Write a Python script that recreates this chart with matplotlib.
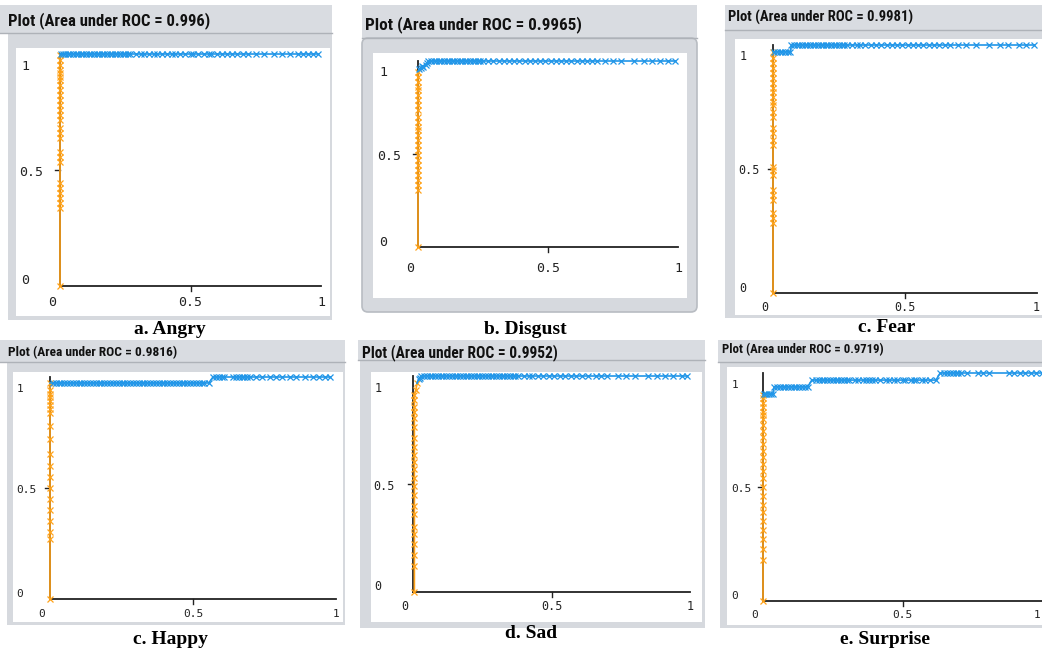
import matplotlib
matplotlib.use("Agg")
import matplotlib.pyplot as plt
from matplotlib.patches import Rectangle, FancyBboxPatch
from matplotlib import font_manager

# ---------------- data ----------------
titles = ["Plot (Area under ROC = 0.996)", "Plot (Area under ROC = 0.9965)",
          "Plot (Area under ROC = 0.9981)", "Plot (Area under ROC = 0.9816)",
          "Plot (Area under ROC = 0.9952)", "Plot (Area under ROC = 0.9719)"]
captions = ["a. Angry", "b. Disgust", "c. Fear", "c. Happy", "d. Sad", "e. Surprise"]
x_tick_labels = ["0", "0.5", "1"]
y_tick_labels = ["0", "0.5", "1"]
tick_values = [0, 0.5, 1]

# orange part (vertical rise near FPR = 0): TPR values
angry_orange_tpr = [0, 0.335, 0.356, 0.378, 0.40, 0.421, 0.443, 0.536, 0.557, 0.579, 0.636,
                    0.658, 0.68, 0.716, 0.737, 0.759, 0.78, 0.802, 0.823, 0.845, 0.866,
                    0.888, 0.902, 0.917, 0.931, 0.953, 0.974, 0.996]
angry_orange_fpr = [0.0] * len(angry_orange_tpr)
angry_blue_fpr = [0.005, 0.01, 0.02, 0.03, 0.04, 0.05, 0.06, 0.07, 0.08, 0.09, 0.10, 0.11, 0.12,
                  0.13, 0.14, 0.15, 0.16, 0.17, 0.18, 0.19, 0.20, 0.21, 0.22, 0.23, 0.24, 0.25,
                  0.26, 0.27, 0.29, 0.31, 0.32, 0.34, 0.36, 0.37, 0.39, 0.41, 0.43, 0.44, 0.46,
                  0.48, 0.50, 0.51, 0.53, 0.55, 0.57, 0.58, 0.60, 0.62, 0.64, 0.66, 0.68, 0.70,
                  0.72, 0.75, 0.78, 0.82, 0.85, 0.88, 0.91, 0.93, 0.95, 0.97, 0.99]
angry_blue_tpr = [1.0] * len(angry_blue_fpr)

disgust_orange_tpr = [0, 0.306, 0.333, 0.36, 0.387, 0.414, 0.441, 0.468, 0.495, 0.522, 0.548,
                      0.575, 0.602, 0.629, 0.647, 0.674, 0.701, 0.737, 0.763, 0.79, 0.817,
                      0.844, 0.862, 0.889, 0.916, 0.943]
disgust_orange_fpr = [0.0] * len(disgust_orange_tpr)
disgust_blue_fpr = [0.005, 0.01, 0.015, 0.02, 0.03, 0.035, 0.04, 0.05, 0.06, 0.07, 0.08, 0.09,
                    0.10, 0.11, 0.12, 0.13, 0.14, 0.15, 0.16, 0.17, 0.18, 0.19, 0.20, 0.21, 0.22,
                    0.23, 0.24, 0.25, 0.27, 0.29, 0.31, 0.33, 0.35, 0.37, 0.39, 0.41, 0.43, 0.45,
                    0.47, 0.49, 0.51, 0.53, 0.55, 0.57, 0.59, 0.61, 0.63, 0.65, 0.67, 0.69, 0.72,
                    0.75, 0.78, 0.83, 0.87, 0.90, 0.93, 0.96, 0.99]
disgust_blue_tpr = [0.955, 0.965, 0.975, 0.97, 0.98, 0.99] + [1.0] * (len(disgust_blue_fpr) - 6)

fear_orange_tpr = [0, 0.281, 0.301, 0.321, 0.375, 0.395, 0.415, 0.476, 0.496, 0.509, 0.597,
                   0.617, 0.644, 0.664, 0.711, 0.731, 0.758, 0.771, 0.792, 0.812, 0.825, 0.845,
                   0.866, 0.886, 0.906, 0.926, 0.946, 0.973]
fear_orange_fpr = [0.0] * len(fear_orange_tpr)
fear_blue_fpr = [0.005, 0.015, 0.025, 0.035, 0.045, 0.055, 0.065, 0.07, 0.08, 0.09, 0.10, 0.11,
                 0.12, 0.13, 0.14, 0.15, 0.16, 0.17, 0.18, 0.19, 0.20, 0.21, 0.22, 0.23, 0.24,
                 0.25, 0.26, 0.27, 0.28, 0.30, 0.32, 0.33, 0.35, 0.37, 0.39, 0.41, 0.43, 0.45,
                 0.47, 0.49, 0.51, 0.53, 0.55, 0.57, 0.59, 0.61, 0.63, 0.65, 0.67, 0.70, 0.73,
                 0.77, 0.82, 0.86, 0.89, 0.93, 0.96, 0.99]
fear_blue_tpr = [0.972] * 7 + [1.0] * (len(fear_blue_fpr) - 7)

happy_orange_tpr = [0, 0.27, 0.30, 0.35, 0.40, 0.45, 0.50, 0.55, 0.60, 0.655, 0.72, 0.78,
                    0.84, 0.855, 0.875, 0.89, 0.91, 0.925, 0.94, 0.973]
happy_orange_fpr = [0.0] * len(happy_orange_tpr)
happy_blue_fpr = [0.01, 0.02, 0.03, 0.04, 0.05, 0.06, 0.07, 0.08, 0.09, 0.10, 0.11, 0.12, 0.13,
                  0.14, 0.15, 0.16, 0.17, 0.18, 0.19, 0.20, 0.21, 0.22, 0.23, 0.24, 0.25, 0.26,
                  0.27, 0.28, 0.29, 0.30, 0.31, 0.32, 0.33, 0.34, 0.35, 0.36, 0.37, 0.38, 0.39,
                  0.40, 0.41, 0.42, 0.43, 0.44, 0.45, 0.46, 0.47, 0.48, 0.49, 0.50, 0.51, 0.52,
                  0.53, 0.54, 0.555, 0.57, 0.58, 0.59, 0.60, 0.61, 0.64, 0.65, 0.66, 0.67, 0.68,
                  0.69, 0.70, 0.72, 0.74, 0.77, 0.79, 0.81, 0.84, 0.86, 0.89, 0.92, 0.94, 0.96,
                  0.98]
happy_blue_tpr = [0.973] * 55 + [1.0] * (len(happy_blue_fpr) - 55)

sad_orange_tpr = [0, 0.12, 0.17, 0.22, 0.27, 0.30, 0.36, 0.40, 0.45, 0.49, 0.53, 0.57, 0.60,
                  0.634, 0.673, 0.711, 0.765, 0.804, 0.835, 0.858, 0.889, 0.912, 0.935, 0.966]
sad_orange_fpr = [0.005] * (len(sad_orange_tpr) - 2) + [0.01, 0.015]
sad_blue_fpr = [0.02, 0.025, 0.03, 0.04, 0.05, 0.06, 0.07, 0.08, 0.09, 0.10, 0.11, 0.12, 0.13,
                0.14, 0.15, 0.16, 0.17, 0.18, 0.19, 0.20, 0.21, 0.22, 0.23, 0.24, 0.25, 0.26,
                0.27, 0.28, 0.29, 0.30, 0.31, 0.32, 0.33, 0.34, 0.35, 0.36, 0.37, 0.38, 0.40,
                0.42, 0.43, 0.45, 0.47, 0.49, 0.51, 0.53, 0.55, 0.57, 0.59, 0.61, 0.63, 0.66,
                0.68, 0.70, 0.74, 0.77, 0.80, 0.85, 0.88, 0.91, 0.94, 0.97, 0.99]
sad_blue_tpr = [0.985, 0.993] + [1.0] * (len(sad_blue_fpr) - 2)

surprise_orange_tpr = [0, 0.18, 0.23, 0.27, 0.31, 0.35, 0.39, 0.42, 0.46, 0.50, 0.54, 0.57,
                       0.60, 0.63, 0.66, 0.69, 0.72, 0.745, 0.77, 0.80, 0.815, 0.83, 0.85, 0.87,
                       0.89, 0.905]
surprise_orange_fpr = [0.0] * len(surprise_orange_tpr)
surprise_blue_fpr = [0.005, 0.012, 0.02, 0.028, 0.035, 0.04, 0.05, 0.06, 0.07, 0.08, 0.09, 0.10,
                     0.11, 0.12, 0.13, 0.14, 0.15, 0.16, 0.175, 0.19, 0.20, 0.21, 0.22, 0.23,
                     0.24, 0.25, 0.26, 0.27, 0.28, 0.29, 0.30, 0.31, 0.33, 0.34, 0.36, 0.37,
                     0.38, 0.39, 0.40, 0.42, 0.44, 0.45, 0.47, 0.48, 0.50, 0.51, 0.53, 0.54, 0.55,
                     0.57, 0.58, 0.60, 0.62, 0.635, 0.65, 0.66, 0.67, 0.68, 0.69, 0.70, 0.71, 0.73,
                     0.77, 0.79, 0.81, 0.88, 0.90, 0.92, 0.94, 0.96, 0.98, 1.0]
surprise_blue_tpr = ([0.908] * 5 + [0.939] * 13 + [0.969] * 35 + [1.0] * 19)

orange_fprs = [angry_orange_fpr, disgust_orange_fpr, fear_orange_fpr, happy_orange_fpr,
               sad_orange_fpr, surprise_orange_fpr]
orange_tprs = [angry_orange_tpr, disgust_orange_tpr, fear_orange_tpr, happy_orange_tpr,
               sad_orange_tpr, surprise_orange_tpr]
blue_fprs = [angry_blue_fpr, disgust_blue_fpr, fear_blue_fpr, happy_blue_fpr, sad_blue_fpr,
             surprise_blue_fpr]
blue_tprs = [angry_blue_tpr, disgust_blue_tpr, fear_blue_tpr, happy_blue_tpr, sad_blue_tpr,
             surprise_blue_tpr]

# ---------------- layout (pixels) ----------------
W, H = 1042, 655
# axis mapping: x0 (fpr=0), x1 (fpr=1), y0 (tpr=0), y1 (tpr=1)
panels = [
    dict(bar=(0, 5, 332, 33), body=(8, 33, 332, 320), white=(16, 48, 330, 316), rounded=False,
         axes=(60, 321, 286, 54), title_xy=(8, 21), title_w=194, title_fs=11,
         cap_xy=(170, 330), lbl_fs=9.5, ylab_dx=-35, xlab_dy=-16, last_dx=0),
    dict(bar=(362, 5, 697, 38), body=(362, 38, 697, 312), white=(373, 53, 687, 298), rounded=True,
         axes=(418, 678, 247, 61), title_xy=(365, 25), title_w=207, title_fs=11,
         cap_xy=(525, 330), lbl_fs=9.5, ylab_dx=-35, xlab_dy=-21, last_dx=0),
    dict(bar=(725, 5, 1042, 30), body=(725, 30, 1042, 318), white=(735, 39, 1042, 315), rounded=False,
         axes=(773, 1037, 293, 45), title_xy=(728, 17), title_w=177, title_fs=10,
         cap_xy=(887, 328), lbl_fs=8.5, ylab_dx=-30, xlab_dy=-14, last_dx=-1),
    dict(bar=(0, 340, 345, 362), body=(7, 362, 345, 625), white=(13, 372, 343, 622), rounded=False,
         axes=(50, 336, 599, 377), title_xy=(8, 353), title_w=162, title_fs=10,
         cap_xy=(170, 640), lbl_fs=8, ylab_dx=-30, xlab_dy=-15, last_dx=0),
    dict(bar=(358, 340, 705, 360), body=(360, 360, 705, 628), white=(371, 372, 702, 622), rounded=False,
         axes=(413, 690, 592, 376), title_xy=(362, 353), title_w=190, title_fs=10.5,
         cap_xy=(531, 633), lbl_fs=8.5, ylab_dx=-35, xlab_dy=-15, last_dx=0),
    dict(bar=(718, 340, 1042, 362), body=(720, 362, 1042, 628), white=(727, 367, 1042, 625), rounded=False,
         axes=(763, 1042, 601, 373), title_xy=(722, 350), title_w=156, title_fs=9.5,
         cap_xy=(885, 640), lbl_fs=8, ylab_dx=-28, xlab_dy=-14, last_dx=-5),
]

ORANGE = "#ffa31a"
BLUE = "#2196e8"
GREY = "#d6d9de"
BAR = "#d9dce1"


def pick_font(names):
    for n in names:
        try:
            font_manager.findfont(font_manager.FontProperties(family=n), fallback_to_default=False)
            return n
        except Exception:
            continue
    return "DejaVu Sans"


title_font = pick_font(["Liberation Sans Narrow", "Roboto Condensed", "Roboto", "Liberation Sans"])

fig = plt.figure(figsize=(W / 100, H / 100), dpi=100)
bg = fig.add_axes([0, 0, 1, 1])
bg.set_xlim(0, W)
bg.set_ylim(H, 0)
bg.axis("off")
renderer = fig.canvas.get_renderer()

for i, p in enumerate(panels):
    bx0, by0, bx1, by1 = p["bar"]
    bg.add_patch(Rectangle((bx0, by0), bx1 - bx0, by1 - by0, fc=BAR, ec="none"))
    qx0, qy0, qx1, qy1 = p["body"]
    if p["rounded"]:
        bg.add_patch(FancyBboxPatch((qx0 + 2, qy0 + 2), qx1 - qx0 - 4, qy1 - qy0 - 4,
                                    boxstyle="round,pad=2,rounding_size=6",
                                    fc=GREY, ec="#b8bcc2", lw=1.2))
    else:
        bg.add_patch(Rectangle((qx0, qy0), qx1 - qx0, qy1 - qy0, fc=GREY, ec="none"))
    bg.plot([bx0, bx1], [by1, by1], color="#aeb2b8", lw=1)
    wx0, wy0, wx1, wy1 = p["white"]
    bg.add_patch(Rectangle((wx0, wy0), wx1 - wx0, wy1 - wy0, fc="white", ec="none"))

    # title fitted to its measured width
    t = bg.text(p["title_xy"][0], p["title_xy"][1], titles[i], ha="left", va="center",
                fontsize=p["title_fs"], fontweight="bold", family=title_font, color="#111111")
    wpx = t.get_window_extent(renderer).width
    t.set_fontsize(p["title_fs"] * p["title_w"] * 1.04 / wpx)

    bg.text(p["cap_xy"][0], p["cap_xy"][1], captions[i], ha="center", va="center",
            fontsize=14, fontweight="bold", family="Liberation Serif", color="black")

    # plot axes
    x0, x1, y0, y1 = p["axes"]
    ax = fig.add_axes([x0 / W, 1 - y0 / H, (x1 - x0) / W, (y0 - y1) / H])
    ax.set_xlim(0, 1)
    ax.set_ylim(0, 1)
    ax.axis("off")
    tk_x = 5 / (y0 - y1)
    tk_y = 5 / (x1 - x0)
    ax.plot([0, 1], [0, 0], color="#222222", lw=1.3, clip_on=False, zorder=2)
    ax.plot([0, 0], [0, 1], color="#222222", lw=1.3, clip_on=False, zorder=2)
    ax.plot([0.5, 0.5], [0, -tk_x], color="#222222", lw=1, clip_on=False)
    ax.plot([0, -tk_y], [0.5, 0.5], color="#222222", lw=1, clip_on=False)

    ax.plot(orange_fprs[i], orange_tprs[i], color=ORANGE, lw=1.2, marker="x", ms=4,
            mew=0.9, clip_on=False, zorder=3)
    ax.plot([orange_fprs[i][-1], blue_fprs[i][0]], [orange_tprs[i][-1], blue_tprs[i][0]],
            color=BLUE, lw=1.2, clip_on=False, zorder=3)
    ax.plot(blue_fprs[i], blue_tprs[i], color=BLUE, lw=1.2, marker="x", ms=4, mew=0.9,
            clip_on=False, zorder=3)

    fs = p["lbl_fs"]
    for v, lab in zip(tick_values, x_tick_labels):
        dx = -8 if v == 0 else (p["last_dx"] if v == 1 else 0)
        ax.annotate(lab, xy=(v, 0), xytext=(dx, p["xlab_dy"]), textcoords="offset pixels",
                    ha="center", va="center", fontsize=fs, family="DejaVu Sans Mono",
                    color="#222222", annotation_clip=False)
    for v, lab in zip(tick_values, y_tick_labels):
        dy = {0: 5, 0.5: -2, 1: -12}[v]
        ax.annotate(lab, xy=(0, v), xytext=(p["ylab_dx"] + (6 if v == 0.5 else 0), dy),
                    textcoords="offset pixels", ha="center", va="center", fontsize=fs,
                    family="DejaVu Sans Mono", color="#222222", annotation_clip=False)

fig.savefig("out.png", dpi=100)
